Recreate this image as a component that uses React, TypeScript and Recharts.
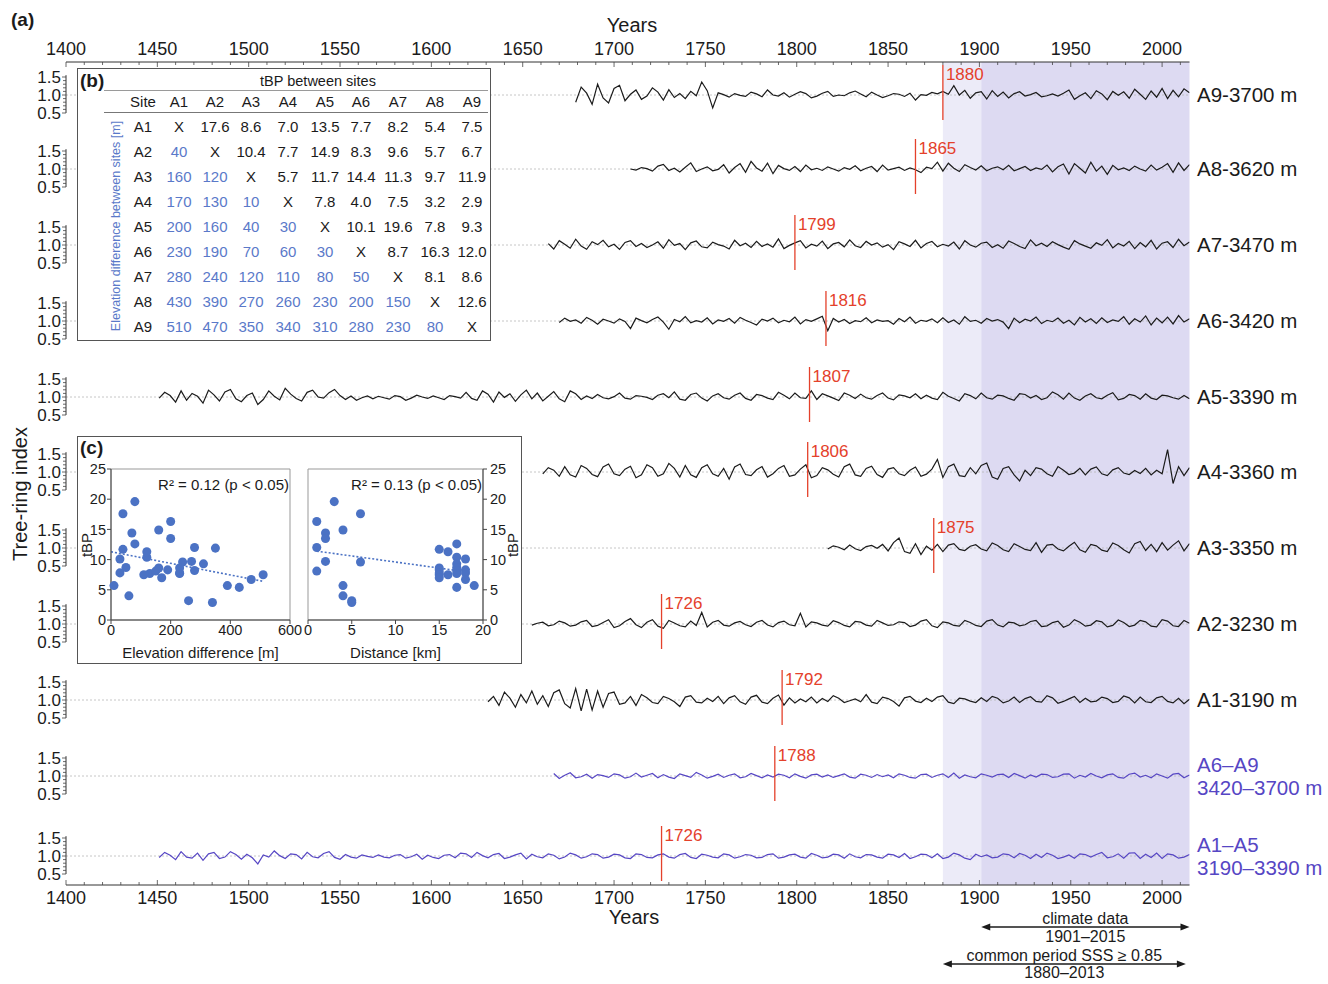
import React from 'react';
import {
  LineChart,
  Line,
  XAxis,
  YAxis,
  ReferenceLine,
  ReferenceArea,
  ScatterChart,
  Scatter
} from 'recharts';

const FONT = '"Liberation Sans", Arial, Helvetica, sans-serif';
const INK = '#1b1b1b';
const RED = '#e4412b';
const SERIES_BLUE = '#5646c4';
const DOT_BLUE = '#4b72c4';
const TABLE_BLUE = '#5a79c9';
const BAND_LIGHT = '#ecebf8';
const BAND_DARK = '#dddaf2';

// ---- axes
const YEAR_DOMAIN = [1400, 2015];
const YEAR_TICKS = [
  1400, 1410, 1420, 1430, 1440, 1450, 1460, 1470, 1480, 1490, 1500, 1510, 1520, 1530, 1540, 1550,
  1560, 1570, 1580, 1590, 1600, 1610, 1620, 1630, 1640, 1650, 1660, 1670, 1680, 1690, 1700, 1710,
  1720, 1730, 1740, 1750, 1760, 1770, 1780, 1790, 1800, 1810, 1820, 1830, 1840, 1850, 1860, 1870,
  1880, 1890, 1900, 1910, 1920, 1930, 1940, 1950, 1960, 1970, 1980, 1990, 2000, 2010
];
const YEAR_LABELS = [1400, 1450, 1500, 1550, 1600, 1650, 1700, 1750, 1800, 1850, 1900, 1950, 2000];
const INDEX_TICKS = [0.5, 0.6, 0.7, 0.8, 0.9, 1.0, 1.1, 1.2, 1.3, 1.4, 1.5];
const INDEX_LABELS = [0.5, 1.0, 1.5];

// shaded periods
const COMMON_START = 1880;
const CLIMATE_START = 1901;
const CLIMATE_END = 2015;
const COMMON_END = 2013;

// ---- tree-ring index series (one value every STEP years from START)
const STEP = 3;

const A9_START = 1679;
const A9_VALUES = [
  0.8, 1.22, 1.05, 0.74, 1.3, 0.92, 0.78, 1.18, 1.27, 0.84,
  1.02, 1.14, 0.88, 0.97, 1.2, 1.08, 0.86, 1.15, 0.93, 1.04,
  0.9, 1.1, 0.98, 1.36, 1.12, 0.64, 1.06, 1.01, 0.94, 1.04,
  0.99, 0.96, 1.08, 1.03, 0.95, 1.14, 1.0, 0.97, 1.06, 0.94,
  1.02, 1.09, 1.04, 0.92, 0.97, 1.05, 1.1, 0.96, 1.0, 0.98,
  1.06, 1.11, 1.03, 0.95, 1.08, 1.0, 0.93, 0.98, 1.04, 1.02,
  0.96, 1.05, 0.86, 1.01, 0.99, 1.07, 1.03, 1.1, 1.02, 1.26,
  1.0, 1.13, 0.91, 1.06, 1.09, 0.89, 1.12, 0.96, 1.08, 0.92,
  1.04, 1.09, 0.97, 1.01, 1.07, 0.95, 0.98, 1.03, 0.97, 1.05,
  1.14, 0.88, 0.98, 1.06, 0.9, 1.12, 1.03, 0.87, 1.1, 0.99,
  1.09, 0.91, 1.16, 1.02, 0.88, 1.11, 0.94, 1.18, 0.9, 1.13,
  0.95, 1.17, 1.06
];

const A8_START = 1709;
const A8_VALUES = [
  1.0, 0.97, 1.04, 1.01, 0.94, 1.08, 1.13, 0.96, 1.02, 0.92,
  1.05, 1.17, 0.93, 1.0, 1.06, 0.95, 0.99, 1.12, 0.89, 1.04,
  1.15, 0.91, 1.21, 1.03, 0.94, 1.16, 0.87, 1.1, 1.01, 0.96,
  1.07, 0.93, 1.11, 0.98, 1.02, 0.96, 1.06, 1.0, 0.94, 1.04,
  0.99, 1.09, 0.95, 1.02, 1.07, 0.93, 1.11, 0.97, 1.01, 1.05,
  0.96, 1.03, 0.98, 0.9, 1.05, 1.01, 1.19, 0.94, 1.16, 1.02,
  0.93, 1.12, 1.04, 0.97, 1.09, 0.95, 1.02, 1.06, 0.98, 1.1,
  0.95, 1.01, 1.07, 0.96, 1.03, 0.99, 1.11, 0.92, 1.06, 1.14,
  0.86, 1.15, 1.02, 0.89, 1.19, 0.94, 1.08, 0.85, 1.1, 0.98,
  1.03, 0.96, 1.08, 1.0, 0.94, 1.11, 0.97, 1.05, 1.15, 0.91,
  1.17, 0.96, 1.12
];

const A7_START = 1664;
const A7_VALUES = [
  1.04, 0.89, 1.12, 1.02, 0.91, 1.16, 0.97, 0.88, 1.09, 1.01,
  1.13, 0.95, 1.02, 0.88, 1.07, 1.12, 0.96, 1.04, 0.93, 1.0,
  1.09, 0.91, 1.15, 0.99, 1.04, 0.87, 1.06, 1.11, 0.95, 0.92,
  1.08, 1.01, 0.97, 0.89, 1.13, 0.98, 1.05, 0.93, 1.1, 0.96,
  1.03, 0.94, 1.17, 0.9, 0.99, 1.06, 1.12, 0.92, 1.02, 0.97,
  1.11, 0.9, 1.03, 1.07, 0.95, 1.14, 0.98, 0.93, 1.1, 1.0,
  1.06, 0.94, 1.01, 0.87, 1.09, 1.03, 0.96, 1.13, 0.92, 1.04,
  1.1, 0.95, 1.02, 0.97, 1.08, 0.89, 1.12, 1.0, 0.94, 1.05,
  1.08, 0.93, 1.01, 0.91, 1.11, 1.04, 0.96, 0.9, 1.14, 0.98,
  1.05, 0.96, 1.09, 1.01, 0.94, 0.88, 1.12, 1.03, 0.97, 0.91,
  1.06, 0.99, 1.15, 0.92, 1.04, 0.97, 1.1, 0.9, 1.07, 0.95,
  1.13, 0.89, 1.05, 1.09, 0.93, 1.16, 0.98, 1.08
];

const A6_START = 1670;
const A6_VALUES = [
  0.96, 1.08, 0.99, 1.03, 0.94, 1.1, 1.02, 0.91, 1.05, 1.0,
  0.94, 1.06, 0.99, 0.79, 1.08, 1.01, 0.95, 1.04, 1.11, 0.97,
  0.77, 1.04, 0.98, 1.12, 0.95, 1.01, 0.97, 1.09, 0.92, 1.03,
  0.99, 1.07, 0.94, 1.1, 1.02, 0.96, 0.89, 1.05, 1.0, 1.08,
  0.95, 1.02, 0.98, 1.11, 0.92, 1.04, 0.99, 1.06, 1.13, 0.73,
  1.07, 0.97, 1.04, 0.93, 1.01, 0.98, 1.09, 0.95, 1.03, 0.99,
  1.01, 0.91, 1.07, 0.98, 1.11, 0.94, 1.02, 0.99, 1.06, 0.95,
  1.09, 0.96, 1.03, 0.91, 1.12, 0.99, 1.02, 0.94, 1.07, 1.0,
  1.04, 0.97, 0.79, 1.08, 0.95, 1.05, 1.0, 1.11, 0.93, 1.02,
  0.98, 1.08, 0.94, 1.02, 0.89, 1.1, 0.97, 1.06, 0.93, 1.09,
  0.96, 1.03, 0.99, 1.12, 0.91, 1.06, 0.97, 1.14, 0.89, 1.08,
  0.95, 1.11, 0.92, 1.15, 0.97, 1.06
];

const A5_START = 1451;
const A5_VALUES = [
  0.97, 1.13, 1.04, 0.86, 1.17, 0.91, 1.1, 1.02, 0.83, 1.19,
  1.06, 0.89, 1.14, 1.21, 0.95, 0.87, 1.04, 1.11, 0.79, 0.93,
  1.17, 1.02, 0.92, 1.24, 1.08, 0.96, 0.89, 1.13, 1.19, 1.0,
  0.97, 1.12, 1.21, 1.04, 0.93, 1.03, 0.91, 0.98, 1.03, 0.95,
  1.02, 0.98, 0.94, 1.04, 1.01, 0.91, 0.97, 1.05, 1.0, 0.96,
  1.03, 0.98, 0.93, 1.04, 1.01, 0.97, 1.13, 0.96, 0.91, 1.17,
  1.08, 0.86, 1.14, 0.99, 1.09, 0.88, 1.06, 1.19, 0.95, 1.11,
  0.89, 1.02, 1.15, 0.95, 0.87, 1.17, 1.09, 0.93, 1.03, 0.96,
  1.07, 0.98, 0.95, 1.01, 1.11, 0.97, 0.94, 1.04, 1.02, 0.99,
  0.93, 1.05, 1.09, 0.98, 1.14, 0.94, 0.91, 1.07, 1.11, 0.97,
  0.89, 1.03, 1.09, 0.98, 0.94, 1.05, 1.11, 0.96, 0.91, 1.07,
  1.04, 0.97, 0.93, 1.13, 1.05, 0.95, 1.11, 0.98, 0.96, 1.17,
  0.93, 1.09, 1.03, 0.97, 0.9, 1.11, 1.05, 0.96, 1.08, 0.98,
  0.94, 1.04, 1.11, 0.97, 0.92, 1.06, 1.03, 0.98, 1.09, 0.95,
  1.05, 0.97, 0.93, 1.13, 1.02, 0.96, 0.89, 1.09, 1.04, 0.95,
  1.11, 0.98, 0.94, 1.05, 1.03, 0.96, 0.91, 1.09, 1.07, 0.97,
  1.04, 0.93, 0.98, 1.14, 1.06, 0.94, 1.11, 0.97, 0.91, 1.03,
  1.09, 0.98, 0.95, 1.05, 1.12, 0.92, 0.96, 1.07, 1.04, 0.94,
  1.09, 0.97, 0.93, 1.05, 1.03, 0.98, 0.94, 1.04, 0.95
];

const A4_START = 1661;
const A4_VALUES = [
  0.95, 1.12, 1.05, 0.88, 1.15, 0.92, 0.86, 1.18, 1.1, 0.93,
  0.87, 1.14, 1.22, 0.95, 0.9, 1.08, 1.16, 0.84, 0.92, 1.2,
  1.12, 0.88, 0.95, 1.24, 1.1, 0.86, 1.18, 0.92, 0.85, 1.12,
  1.2, 0.95, 0.88, 1.1, 0.8, 1.14, 1.22, 0.93, 0.9, 1.06,
  1.15, 0.86, 0.95, 1.1, 1.18, 0.88, 0.92, 1.08, 1.2, 0.84,
  0.9, 1.12, 1.06, 0.94, 0.86, 1.15, 1.22, 0.92, 0.88, 1.1,
  1.16, 0.93, 0.85, 1.08, 1.12, 0.95, 0.9, 1.05, 1.14, 0.88,
  0.94, 1.08, 1.35, 0.85, 1.15, 1.22, 0.9, 0.87, 1.12, 0.95,
  1.18, 1.25, 0.86, 0.8, 1.1, 1.15, 0.92, 0.75, 1.05, 0.9,
  1.12, 1.08, 0.95, 0.88, 1.15, 1.05, 0.93, 0.97, 1.1, 0.92,
  1.08, 1.14, 0.95, 0.9, 1.06, 1.12, 0.97, 0.93, 1.04, 0.96,
  1.1, 0.92, 1.05, 0.95, 1.62, 0.68, 1.15, 0.9, 1.12
];

const A3_START = 1817;
const A3_VALUES = [
  0.97, 1.06, 1.02, 0.95, 1.08, 0.98, 0.93, 1.04, 1.07, 0.99,
  1.1, 0.92, 1.15, 1.28, 0.9, 0.85, 1.12, 0.82, 1.05, 0.94,
  1.1, 0.9, 1.08, 1.12, 0.96, 0.93, 1.05, 1.09, 0.97, 0.92,
  1.14, 1.07, 0.95, 0.9, 1.12, 1.04, 0.96, 0.93, 1.15, 0.88,
  1.08, 1.1, 0.97, 0.92, 1.05, 1.16, 0.95, 0.88, 1.1, 1.06,
  0.94, 0.9, 1.14, 1.07, 0.95, 0.86, 1.12, 1.18, 0.93, 1.1,
  0.9, 1.15, 0.94, 1.08, 1.2, 0.92, 1.12
];

const A2_START = 1655;
const A2_VALUES = [
  0.97, 1.02, 1.05, 0.95, 0.98, 1.08, 1.03, 0.94, 0.97, 1.06,
  1.1, 0.93, 0.96, 1.04, 1.12, 0.9, 0.95, 1.07, 1.15, 0.98,
  0.9, 1.05, 1.12, 0.94, 0.88, 1.1, 1.03, 0.95, 0.92, 1.08,
  0.96, 1.32, 0.92, 1.05, 1.1, 0.97, 0.94, 1.03, 1.07, 0.98,
  0.93, 1.05, 1.1, 0.97, 0.92, 1.04, 1.08, 0.98, 0.95, 1.3,
  0.92, 1.06, 1.03, 0.97, 0.94, 1.09, 1.04, 0.96, 0.92, 1.07,
  1.05, 0.97, 0.94, 1.1, 1.03, 0.96, 0.98, 1.06, 1.04, 0.93,
  0.97, 1.08, 1.12, 0.95, 0.9, 1.06, 1.03, 0.96, 0.94, 1.1,
  1.04, 0.96, 0.93, 1.08, 1.12, 0.97, 0.92, 1.05, 1.03, 0.95,
  0.98, 1.07, 1.1, 0.93, 0.95, 1.04, 1.08, 0.91, 0.97, 1.12,
  1.05, 0.94, 0.97, 1.09, 1.06, 0.92, 0.96, 1.11, 1.04, 0.93,
  0.97, 1.1, 1.06, 0.94, 0.92, 1.12, 1.08, 0.95, 0.93, 1.1,
  1.02
];

const A1_START = 1631;
const A1_VALUES = [
  0.95, 1.1, 0.85, 1.22, 1.05, 0.8, 1.15, 0.92, 1.25, 0.88,
  1.12, 0.82, 1.2, 1.28, 0.9, 0.78, 1.32, 0.7, 1.3, 0.72,
  1.25, 0.8, 1.18, 1.22, 0.88, 0.92, 1.1, 0.85, 1.15, 1.06,
  0.93, 0.9, 1.1, 1.04, 0.95, 0.82, 1.08, 1.12, 0.94, 0.92,
  1.05, 0.96, 1.1, 0.9, 1.06, 1.12, 0.95, 0.88, 1.08, 1.13,
  0.94, 0.9, 1.05, 1.14, 0.86, 1.06, 0.92, 1.03, 0.95, 1.08,
  0.92, 1.04, 0.96, 1.12, 1.05, 0.93, 0.98, 1.03, 0.95, 1.15,
  0.94, 0.9, 1.08, 1.04, 0.96, 0.83, 1.06, 1.1, 0.97, 0.93,
  1.05, 0.96, 1.08, 1.12, 0.94, 0.9, 1.05, 1.03, 0.97, 0.93,
  1.06, 0.96, 1.1, 1.05, 0.92, 0.97, 1.08, 0.93, 1.04, 1.09,
  0.96, 0.94, 1.12, 1.06, 0.91, 0.96, 1.03, 1.1, 0.93, 1.05,
  0.95, 0.97, 1.08, 1.04, 0.93, 0.96, 1.11, 1.06, 0.92, 1.08,
  0.95, 0.93, 1.06, 1.1, 0.96, 0.92, 1.05, 0.9, 1.02
];

const A6A9_START = 1667;
const A6A9_VALUES = [
  1.07, 0.93, 1.02, 1.09, 0.95, 0.98, 1.05, 0.94, 1.04, 1.01,
  0.96, 1.06, 1.03, 0.94, 0.98, 1.08, 0.97, 1.02, 1.07, 0.95,
  1.04, 0.97, 0.93, 1.06, 1.01, 0.96, 1.1, 1.03, 0.94, 0.99,
  1.05, 0.96, 1.02, 1.06, 0.95, 0.98, 1.07, 1.01, 0.95, 1.03,
  0.97, 1.05, 1.02, 0.95, 1.06, 0.99, 0.94, 1.03, 1.05, 0.97,
  1.03, 0.96, 1.01, 1.06, 0.97, 0.94, 1.05, 1.02, 0.96, 1.04,
  0.98, 1.03, 0.95, 1.06, 1.02, 0.96, 0.94, 1.04, 1.05, 0.96,
  1.02, 1.06, 0.96, 1.08, 0.94, 1.03, 0.98, 0.95, 1.06, 1.02,
  0.97, 1.04, 1.05, 0.96, 1.07, 1.01, 0.94, 1.03, 0.97, 1.05,
  1.04, 0.96, 0.98, 1.05, 1.06, 0.94, 1.02, 0.97, 1.07, 1.0,
  0.95, 1.03, 1.06, 0.96, 0.94, 1.05, 1.08, 0.97, 1.02, 0.95,
  1.06, 1.0, 0.94, 1.05, 1.07, 0.95, 1.03
];

const A1A5_START = 1451;
const A1A5_VALUES = [
  0.96, 1.1, 1.02, 0.9, 1.12, 0.97, 0.94, 1.08, 0.88, 1.06,
  1.1, 0.93, 0.97, 1.12, 1.04, 0.91, 1.05, 0.95, 0.78, 1.03,
  0.97, 1.14, 1.01, 0.93, 1.06, 1.04, 0.92, 1.1, 0.98, 0.95,
  1.07, 1.12, 0.96, 0.91, 1.04, 0.97, 0.94, 1.03, 0.99, 0.96,
  1.03, 0.97, 0.95, 1.02, 1.04, 0.94, 0.98, 1.05, 0.91, 1.02,
  0.96, 0.93, 1.02, 1.04, 0.95, 1.08, 1.06, 0.96, 1.1, 1.01,
  0.95, 1.04, 1.07, 0.93, 0.97, 1.03, 1.08, 0.92, 1.05, 0.98,
  0.95, 1.06, 1.02, 0.92, 0.97, 1.08, 1.03, 0.94, 0.98, 1.06,
  1.04, 0.94, 0.97, 1.05, 1.03, 0.95, 0.93, 1.06, 1.04, 0.96,
  0.95, 1.03, 1.06, 0.97, 0.94, 1.04, 1.07, 0.96, 0.93, 1.05,
  1.02, 0.97, 0.95, 1.06, 1.03, 0.94, 0.98, 1.04, 1.02, 0.95,
  0.96, 1.04, 1.06, 0.94, 0.97, 1.03, 1.05, 0.97, 0.94, 1.07,
  1.02, 0.95, 0.97, 1.05, 1.03, 0.94, 1.06, 0.98, 0.95, 1.04,
  1.03, 0.97, 0.94, 1.05, 1.03, 0.96, 1.07, 0.93, 0.98, 1.05,
  1.04, 0.95, 1.06, 0.93, 0.97, 1.08, 1.03, 0.94, 0.9, 1.05,
  0.98, 1.03, 0.95, 0.97, 1.06, 1.04, 0.95, 1.07, 1.02, 0.93,
  1.05, 0.96, 1.08, 1.02, 0.93, 0.97, 1.03, 0.94, 1.06, 1.04,
  0.97, 1.04, 1.1, 0.95, 0.98, 1.06, 0.94, 1.08, 1.09, 0.93,
  1.05, 0.96, 1.08, 0.93, 1.06, 1.03, 0.94, 0.97, 1.04
];

const ROWS = [
  { key: 'A9', start: A9_START, values: A9_VALUES, marker: 1880, label: ['A9-3700 m'], color: INK },
  { key: 'A8', start: A8_START, values: A8_VALUES, marker: 1865, label: ['A8-3620 m'], color: INK },
  { key: 'A7', start: A7_START, values: A7_VALUES, marker: 1799, label: ['A7-3470 m'], color: INK },
  { key: 'A6', start: A6_START, values: A6_VALUES, marker: 1816, label: ['A6-3420 m'], color: INK },
  { key: 'A5', start: A5_START, values: A5_VALUES, marker: 1807, label: ['A5-3390 m'], color: INK },
  { key: 'A4', start: A4_START, values: A4_VALUES, marker: 1806, label: ['A4-3360 m'], color: INK },
  { key: 'A3', start: A3_START, values: A3_VALUES, marker: 1875, label: ['A3-3350 m'], color: INK },
  { key: 'A2', start: A2_START, values: A2_VALUES, marker: 1726, label: ['A2-3230 m'], color: INK },
  { key: 'A1', start: A1_START, values: A1_VALUES, marker: 1792, label: ['A1-3190 m'], color: INK },
  { key: 'A6A9', start: A6A9_START, values: A6A9_VALUES, marker: 1788, label: ['A6–A9', '3420–3700 m'], color: SERIES_BLUE },
  { key: 'A1A5', start: A1A5_START, values: A1A5_VALUES, marker: 1726, label: ['A1–A5', '3190–3390 m'], color: SERIES_BLUE }
];

// ---- inset (b): tBP (upper triangle) and elevation difference (lower triangle)
const SITES = ['A1', 'A2', 'A3', 'A4', 'A5', 'A6', 'A7', 'A8', 'A9'];
const TABLE_ROWS = [
  ['X', '17.6', '8.6', '7.0', '13.5', '7.7', '8.2', '5.4', '7.5'],
  ['40', 'X', '10.4', '7.7', '14.9', '8.3', '9.6', '5.7', '6.7'],
  ['160', '120', 'X', '5.7', '11.7', '14.4', '11.3', '9.7', '11.9'],
  ['170', '130', '10', 'X', '7.8', '4.0', '7.5', '3.2', '2.9'],
  ['200', '160', '40', '30', 'X', '10.1', '19.6', '7.8', '9.3'],
  ['230', '190', '70', '60', '30', 'X', '8.7', '16.3', '12.0'],
  ['280', '240', '120', '110', '80', '50', 'X', '8.1', '8.6'],
  ['430', '390', '270', '260', '230', '200', '150', 'X', '12.6'],
  ['510', '470', '350', '340', '310', '280', '230', '80', 'X']
];

// ---- inset (c)
const DIST_KM = [1, 1, 1, 2, 2, 2, 3, 4, 4, 4, 5, 5, 6, 6, 15, 15, 15, 15, 15, 15, 16, 16, 17, 17, 17, 17, 17, 17, 17, 18, 18, 18, 18, 19];
const DIST_TBP = [16.3, 12.0, 8.1, 14.4, 13.5, 9.7, 19.6, 14.9, 5.7, 4.0, 3.2, 2.9, 17.6, 9.6, 11.7, 8.6, 8.3, 7.8, 7.5, 7.0, 11.3, 7.5, 12.6, 10.4, 9.3, 8.7, 8.2, 7.7, 5.4, 10.1, 8.3, 7.8, 6.7, 5.7];
const TBP_TICKS = [0, 5, 10, 15, 20, 25];
const ELEV_TICKS = [0, 200, 400, 600];
const DIST_TICKS = [0, 5, 10, 15, 20];
const ELEV_TREND = [{ x: 0, y: 11.3 }, { x: 510, y: 6.4 }];
const DIST_TREND = [{ x: 1, y: 11.4 }, { x: 18.5, y: 7.9 }];

const ELEV_POINTS: { x: number; y: number }[] = [];
TABLE_ROWS.forEach((cells, r) =>
  cells.forEach((cell, c) => {
    if (c < r) ELEV_POINTS.push({ x: Number(cell), y: Number(TABLE_ROWS[c][r]) });
  })
);
const DIST_POINTS = DIST_KM.map((x, i) => ({ x, y: DIST_TBP[i] }));

// ---- layout (page pixels)
const PAGE_W = 1328;
const PAGE_H = 984;
const X_LEFT = 66;
const X_RIGHT = 1189.5;
const Y_AXIS_W = 40;
const X_AXIS_H = 30;
const ROW_CENTERS = [95, 169, 245, 321, 397, 472, 548, 624, 700, 776, 856];
const ROW_BOUNDS = [62, 132, 207, 283, 359, 434, 510, 586, 662, 738, 816, 885];
const PX_PER_UNIT = 36;
const MARK_UP = 30;
const MARK_DOWN = 25;
const CLIMATE_ARROW_Y = 927;
const COMMON_ARROW_Y = 964;

const IndexTick = (props: any) => {
  const { x, y, payload } = props;
  const value = Number(payload.value);
  const major = INDEX_LABELS.some((l) => Math.abs(l - value) < 1e-6);
  return (
    <g>
      <line x1={x - (major ? 4 : 3)} x2={x} y1={y} y2={y} stroke="#444" strokeWidth={0.8} />
      {major && (
        <text x={x - 5} y={y + 6} textAnchor="end" fontSize={17} fill={INK}>
          {value.toFixed(1)}
        </text>
      )}
    </g>
  );
};

const TopYearTick = (props: any) => {
  const { x, y, payload } = props;
  const major = YEAR_LABELS.includes(payload.value);
  return (
    <g>
      <line x1={x} x2={x} y1={y} y2={y + (major ? 5 : 3)} stroke="#444" strokeWidth={0.8} />
      {major && (
        <text x={x} y={y - 7} textAnchor="middle" fontSize={18} fill={INK}>
          {payload.value}
        </text>
      )}
    </g>
  );
};

const BottomYearTick = (props: any) => {
  const { x, y, payload } = props;
  const major = YEAR_LABELS.includes(payload.value);
  return (
    <g>
      <line x1={x} x2={x} y1={y} y2={y - (major ? 5 : 3)} stroke="#444" strokeWidth={0.8} />
      {major && (
        <text x={x} y={y + 19} textAnchor="middle" fontSize={18} fill={INK}>
          {payload.value}
        </text>
      )}
    </g>
  );
};

const ArrowShape = (props: any) => {
  const { x1, y1, x2, y2 } = props;
  const head = 9;
  const half = 3.5;
  return (
    <g>
      <line x1={x1 + 4} y1={y1} x2={x2 - 4} y2={y2} stroke={INK} strokeWidth={1.4} />
      <polygon points={`${x1},${y1} ${x1 + head},${y1 - half} ${x1 + head},${y1 + half}`} fill={INK} />
      <polygon points={`${x2},${y2} ${x2 - head},${y2 - half} ${x2 - head},${y2 + half}`} fill={INK} />
    </g>
  );
};

const SeriesRow = ({ row, index }: { row: (typeof ROWS)[number]; index: number }) => {
  const first = index === 0;
  const last = index === ROWS.length - 1;
  const plotTop = ROW_BOUNDS[index];
  const plotBottom = ROW_BOUNDS[index + 1];
  const center = ROW_CENTERS[index];
  const divTop = first ? 0 : plotTop;
  const divBottom = last ? PAGE_H : plotBottom;
  const toUnits = (py: number) => 1 + (center - py) / PX_PER_UNIT;
  const domain = [toUnits(plotBottom), toUnits(plotTop)];
  const data = row.values.map((v, i) => ({ year: row.start + i * STEP, v }));
  const margin = {
    top: first ? plotTop - X_AXIS_H : 0,
    bottom: last ? divBottom - plotBottom - X_AXIS_H : 0,
    left: X_LEFT - Y_AXIS_W,
    right: PAGE_W - X_RIGHT
  };
  const arrowText = { fill: INK, fontSize: 16 };
  const climateY = toUnits(CLIMATE_ARROW_Y);
  const commonY = toUnits(COMMON_ARROW_Y);

  return (
    <div style={{ position: 'absolute', left: 0, top: divTop }}>
      <LineChart width={PAGE_W} height={divBottom - divTop} data={data} margin={margin}>
        {first || last ? (
          <XAxis
            type="number"
            dataKey="year"
            domain={YEAR_DOMAIN}
            allowDataOverflow
            orientation={first ? 'top' : 'bottom'}
            height={X_AXIS_H}
            ticks={YEAR_TICKS}
            interval={0}
            tick={first ? TopYearTick : BottomYearTick}
            tickLine={false}
            tickSize={0}
            tickMargin={0}
            axisLine={{ stroke: '#333', strokeWidth: 1 }}
          />
        ) : (
          <XAxis type="number" dataKey="year" domain={YEAR_DOMAIN} allowDataOverflow hide />
        )}
        <YAxis
          type="number"
          domain={domain}
          allowDataOverflow
          ticks={INDEX_TICKS}
          interval={0}
          tick={IndexTick}
          tickLine={false}
          tickSize={0}
          tickMargin={0}
          axisLine={false}
          width={Y_AXIS_W}
        />
        <ReferenceArea x1={COMMON_START} x2={CLIMATE_START} fill={BAND_LIGHT} fillOpacity={1} stroke="none" />
        <ReferenceArea x1={CLIMATE_START} x2={CLIMATE_END} fill={BAND_DARK} fillOpacity={1} stroke="none" />
        <ReferenceLine y={1} stroke="#b8b8b8" strokeDasharray="2 2" strokeWidth={0.8} />
        <ReferenceLine
          segment={[{ x: 1400, y: 0.5 }, { x: 1400, y: 1.55 }]}
          stroke="#333"
          strokeWidth={1}
          ifOverflow="visible"
        />
        <Line
          type="linear"
          dataKey="v"
          stroke={row.color}
          strokeWidth={1.2}
          dot={false}
          activeDot={false}
          isAnimationActive={false}
        />
        <ReferenceLine
          segment={[
            { x: row.marker, y: 1 - MARK_DOWN / PX_PER_UNIT },
            { x: row.marker, y: 1 + MARK_UP / PX_PER_UNIT }
          ]}
          stroke={RED}
          strokeWidth={1.3}
          ifOverflow="visible"
          label={{ value: String(row.marker), position: 'insideTopLeft', offset: 3, fill: RED, fontSize: 17 }}
        />
        {last && (
          <ReferenceLine
            segment={[{ x: CLIMATE_START, y: climateY }, { x: CLIMATE_END, y: climateY }]}
            ifOverflow="visible"
            shape={ArrowShape}
            label={{ value: 'climate data', position: 'top', offset: 3, ...arrowText }}
          />
        )}
        {last && (
          <ReferenceLine
            segment={[{ x: CLIMATE_START, y: climateY }, { x: CLIMATE_END, y: climateY }]}
            ifOverflow="visible"
            stroke="none"
            label={{ value: '1901–2015', position: 'bottom', offset: 4, ...arrowText }}
          />
        )}
        {last && (
          <ReferenceLine
            segment={[{ x: COMMON_START, y: commonY }, { x: COMMON_END, y: commonY }]}
            ifOverflow="visible"
            shape={ArrowShape}
            label={{ value: 'common period SSS ≥ 0.85', position: 'top', offset: 3, ...arrowText }}
          />
        )}
        {last && (
          <ReferenceLine
            segment={[{ x: COMMON_START, y: commonY }, { x: COMMON_END, y: commonY }]}
            ifOverflow="visible"
            stroke="none"
            label={{ value: '1880–2013', position: 'bottom', offset: 3, ...arrowText }}
          />
        )}
      </LineChart>
    </div>
  );
};

const centerText = (x: number, y: number, size: number, extra: React.CSSProperties = {}): React.CSSProperties => ({
  position: 'absolute',
  left: x,
  top: y,
  transform: 'translate(-50%, -50%)',
  fontSize: size,
  lineHeight: 1,
  whiteSpace: 'nowrap',
  ...extra
});

const ROTATE = 'translate(-50%, -50%) rotate(-90deg)';

// table (b) geometry
const TB_COLS = [179, 215, 251, 288, 325, 361, 398, 435, 472];
const TB_SITE_X = 143;
const TB_HEAD_Y = 101;
const TB_ROW_Y0 = 126;
const TB_ROW_DY = 25;

const TableInset = () => (
  <>
    <div
      style={{
        position: 'absolute',
        left: 77,
        top: 68,
        width: 414,
        height: 273,
        boxSizing: 'border-box',
        border: '1.5px solid #555',
        background: '#fff'
      }}
    />
    <div style={{ position: 'absolute', left: 80, top: 70, fontSize: 19, fontWeight: 'bold' }}>(b)</div>
    <div style={centerText(318, 81, 14.5)}>tBP between sites</div>
    <div style={{ position: 'absolute', left: 104, top: 90, width: 384, borderTop: '1px solid #9a9a9a' }} />
    <div style={{ position: 'absolute', left: 104, top: 112, width: 384, borderTop: '1px solid #777' }} />
    <div style={centerText(TB_SITE_X, TB_HEAD_Y, 15)}>Site</div>
    {SITES.map((s, c) => (
      <div key={`h${s}`} style={centerText(TB_COLS[c], TB_HEAD_Y, 15)}>
        {s}
      </div>
    ))}
    {TABLE_ROWS.map((cells, r) => (
      <React.Fragment key={`r${r}`}>
        <div style={centerText(TB_SITE_X, TB_ROW_Y0 + r * TB_ROW_DY, 15)}>{SITES[r]}</div>
        {cells.map((cell, c) => (
          <div
            key={`c${r}-${c}`}
            style={centerText(TB_COLS[c], TB_ROW_Y0 + r * TB_ROW_DY, 15, { color: c < r ? TABLE_BLUE : INK })}
          >
            {cell}
          </div>
        ))}
      </React.Fragment>
    ))}
    <div style={centerText(116, 226, 12.5, { color: TABLE_BLUE, transform: ROTATE })}>
      Elevation difference between sites [m]
    </div>
  </>
);

const tickStyle = { fontSize: 14.5, fill: INK };

const ScatterInset = () => (
  <>
    <div
      style={{
        position: 'absolute',
        left: 77,
        top: 436,
        width: 445,
        height: 228,
        boxSizing: 'border-box',
        border: '1.5px solid #555',
        background: '#fff'
      }}
    />
    <div style={{ position: 'absolute', left: 80, top: 437, fontSize: 19, fontWeight: 'bold' }}>(c)</div>
    <div style={{ position: 'absolute', left: 78, top: 438 }}>
      <ScatterChart width={230} height={225} margin={{ top: 31, right: 18, bottom: 5, left: 0 }}>
        <XAxis
          type="number"
          dataKey="x"
          domain={[0, 600]}
          ticks={ELEV_TICKS}
          interval={0}
          tick={tickStyle}
          tickSize={4}
          tickMargin={1}
          height={38}
          axisLine={{ stroke: '#444' }}
          tickLine={{ stroke: '#444' }}
          label={{ value: 'Elevation difference [m]', position: 'insideBottom', offset: 0, fontSize: 15, fill: INK }}
        />
        <YAxis
          type="number"
          dataKey="y"
          domain={[0, 25]}
          ticks={TBP_TICKS}
          interval={0}
          tick={tickStyle}
          tickSize={4}
          tickMargin={1}
          width={33}
          axisLine={{ stroke: '#444' }}
          tickLine={{ stroke: '#444' }}
        />
        <ReferenceArea x1={0} x2={600} y1={0} y2={25} fill="none" stroke="#999" strokeWidth={1} />
        <Scatter data={ELEV_POINTS} fill={DOT_BLUE} isAnimationActive={false} />
        <ReferenceLine segment={ELEV_TREND} stroke={DOT_BLUE} strokeDasharray="2 2" strokeWidth={1.6} />
      </ScatterChart>
    </div>
    <div style={{ position: 'absolute', left: 300, top: 438 }}>
      <ScatterChart width={216} height={225} margin={{ top: 31, right: 0, bottom: 5, left: 8 }}>
        <XAxis
          type="number"
          dataKey="x"
          domain={[0, 20]}
          ticks={DIST_TICKS}
          interval={0}
          tick={tickStyle}
          tickSize={4}
          tickMargin={1}
          height={38}
          axisLine={{ stroke: '#444' }}
          tickLine={{ stroke: '#444' }}
          label={{ value: 'Distance [km]', position: 'insideBottom', offset: 0, fontSize: 15, fill: INK }}
        />
        <YAxis
          type="number"
          dataKey="y"
          orientation="right"
          domain={[0, 25]}
          ticks={TBP_TICKS}
          interval={0}
          tick={tickStyle}
          tickSize={4}
          tickMargin={3}
          width={33}
          axisLine={{ stroke: '#444' }}
          tickLine={{ stroke: '#444' }}
        />
        <ReferenceArea x1={0} x2={20} y1={0} y2={25} fill="none" stroke="#999" strokeWidth={1} />
        <Scatter data={DIST_POINTS} fill={DOT_BLUE} isAnimationActive={false} />
        <ReferenceLine segment={DIST_TREND} stroke={DOT_BLUE} strokeDasharray="2 2" strokeWidth={1.6} />
      </ScatterChart>
    </div>
    <div style={centerText(86, 545, 15, { transform: ROTATE })}>tBP</div>
    <div style={centerText(512, 545, 15, { transform: ROTATE })}>tBP</div>
    <div style={{ position: 'absolute', right: PAGE_W - 289, top: 476, fontSize: 15, whiteSpace: 'nowrap' }}>
      R² = 0.12 (p &lt; 0.05)
    </div>
    <div style={{ position: 'absolute', right: PAGE_W - 482, top: 476, fontSize: 15, whiteSpace: 'nowrap' }}>
      R² = 0.13 (p &lt; 0.05)
    </div>
  </>
);

export default function App() {
  return (
    <div
      style={{
        position: 'absolute',
        left: 0,
        top: 0,
        width: PAGE_W,
        height: PAGE_H,
        overflow: 'hidden',
        background: '#fff',
        fontFamily: FONT,
        color: INK
      }}
    >
      {ROWS.map((row, i) => (
        <SeriesRow key={row.key} row={row} index={i} />
      ))}
      <div style={{ position: 'absolute', left: 11, top: 9, fontSize: 19, fontWeight: 'bold' }}>(a)</div>
      <div style={centerText(632, 25, 20)}>Years</div>
      <div style={centerText(634, 917, 20)}>Years</div>
      <div style={centerText(20, 494, 20, { transform: ROTATE })}>Tree-ring index</div>
      {ROWS.map((row, i) => (
        <div
          key={`lab-${row.key}`}
          style={{
            position: 'absolute',
            left: 1197,
            top: ROW_CENTERS[i] - (row.label.length === 1 ? 12 : 23),
            fontSize: 20.5,
            lineHeight: row.label.length === 1 ? '24px' : '23px',
            color: row.color === SERIES_BLUE ? SERIES_BLUE : INK,
            whiteSpace: 'nowrap'
          }}
        >
          {row.label.map((l) => (
            <div key={l}>{l}</div>
          ))}
        </div>
      ))}
      <TableInset />
      <ScatterInset />
    </div>
  );
}
